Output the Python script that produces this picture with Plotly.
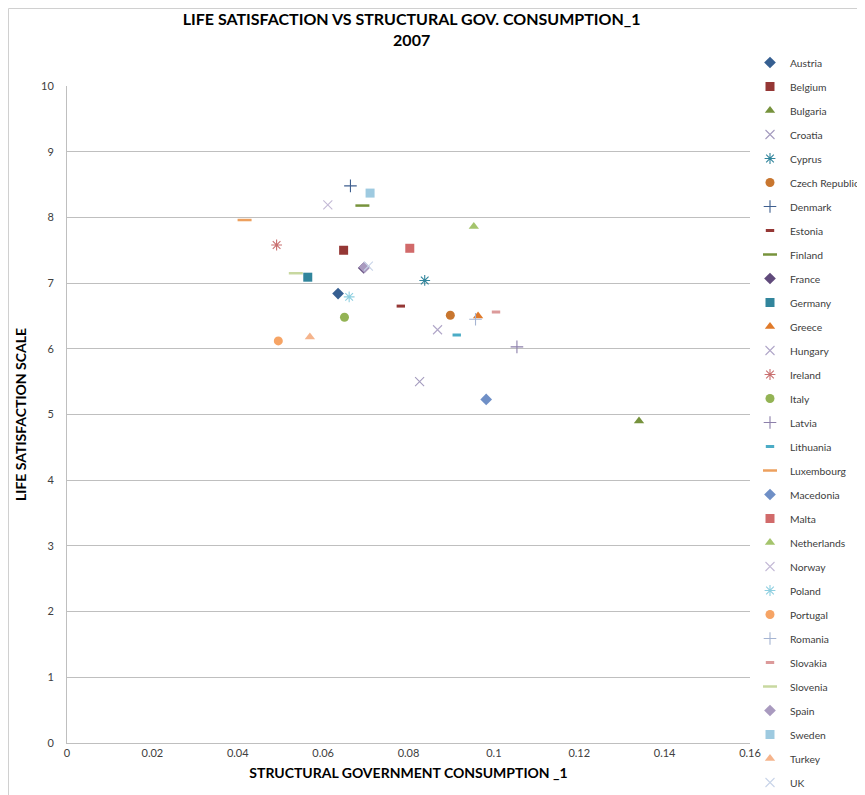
import plotly.graph_objects as go

countries = ["Austria", "Belgium", "Bulgaria", "Croatia", "Cyprus", "Czech Republic", "Denmark",
             "Estonia", "Finland", "France", "Germany", "Greece", "Hungary", "Ireland", "Italy",
             "Latvia", "Lithuania", "Luxembourg", "Macedonia", "Malta", "Netherlands", "Norway",
             "Poland", "Portugal", "Romania", "Slovakia", "Slovenia", "Spain", "Sweden", "Turkey", "UK"]

gov_consumption = [0.0635, 0.0648, 0.1340, 0.0826, 0.0838, 0.0898, 0.0664,
                   0.0782, 0.0692, 0.0695, 0.0564, 0.0963, 0.0868, 0.0491, 0.0650,
                   0.1054, 0.0913, 0.0416, 0.0982, 0.0803, 0.0953, 0.0611,
                   0.0661, 0.0495, 0.0957, 0.1005, 0.0536, 0.0697, 0.0710, 0.0569, 0.0706]

life_satisfaction = [6.84, 7.50, 4.90, 5.50, 7.04, 6.51, 8.48,
                     6.65, 8.18, 7.23, 7.09, 6.50, 6.29, 7.58, 6.48,
                     6.03, 6.21, 7.96, 5.23, 7.53, 7.86, 8.19,
                     6.79, 6.12, 6.45, 6.56, 7.15, 7.24, 8.37, 6.18, 7.26]

colors = ["#365F91", "#953735", "#76923C", "#A49BBE", "#31859C", "#C8762F", "#3F5F8F",
          "#953735", "#77933C", "#604A7B", "#31859C", "#E07A2A", "#B0A6C8", "#C97070", "#93B354",
          "#8C7FAA", "#4BACC6", "#EDA05E", "#6F8FC6", "#D16A6A", "#A4C46C", "#C4BAD6",
          "#8ECFE0", "#F6A465", "#A5B4D2", "#DC9A9A", "#C8D8A0", "#A99ABF", "#9ECAE0", "#F5B48C", "#C8D4E8"]

symbol_cycle = ["diamond", "square", "triangle-up", "x-thin-open", "asterisk-open", "circle",
                "cross-thin-open", "line-ew-open", "line-ew-open"]
size_cycle = [9, 9, 9, 9, 9, 9, 9, 6, 10]
width_cycle = [0, 0, 0, 1.1, 1.1, 0, 1.1, 3, 2.5]

fig = go.Figure()
for i, c in enumerate(countries):
    k = i % 9
    sym = symbol_cycle[k]
    marker = dict(symbol=sym, size=size_cycle[k], color=colors[i])
    if width_cycle[k] > 0:
        marker["line"] = dict(color=colors[i], width=width_cycle[k])
    else:
        marker["line"] = dict(width=0)
    fig.add_trace(go.Scatter(x=[gov_consumption[i]], y=[life_satisfaction[i]], mode="markers",
                             name=c, marker=marker, legendgroup=c))

font_family = "Lato, Open Sans, sans-serif"

W, H = 857, 787
L, T, PW, PH = 59, 78, 683, 657

fig.update_layout(
    width=W, height=H,
    paper_bgcolor="white", plot_bgcolor="white",
    margin=dict(l=L, r=W - L - PW, t=T, b=H - T - PH, autoexpand=False),
    font=dict(family=font_family, size=11, color="#404040"),
    title=dict(text="<b>LIFE SATISFACTION VS STRUCTURAL GOV. CONSUMPTION_1<br>2007</b>",
               x=0.471, xanchor="center", y=(H - 17) / H, yanchor="top",
               font=dict(family=font_family, size=16, color="#000000")),
    xaxis=dict(range=[0, 0.16], dtick=0.02, tick0=0, showgrid=False, zeroline=False,
               showline=True, linecolor="#BFBFBF", linewidth=1, ticks="",
               tickfont=dict(size=11, color="#404040"),
               title=dict(text="<b>STRUCTURAL GOVERNMENT CONSUMPTION _1</b>",
                          font=dict(size=14, color="#000000"), standoff=9)),
    yaxis=dict(range=[0, 10], dtick=1, tick0=0, showgrid=True, gridcolor="#BFBFBF", gridwidth=1,
               zeroline=False, showline=True, linecolor="#BFBFBF", linewidth=1, ticks="",
               ticklabelstandoff=10,
               tickfont=dict(size=11, color="#404040"),
               title=dict(text="<b>LIFE SATISFACTION SCALE</b>",
                          font=dict(size=14, color="#000000"), standoff=11)),
    legend=dict(x=(742 - L) / PW, xanchor="left", y=(T + PH - 40) / PH, yanchor="top",
                traceorder="grouped", tracegroupgap=5,
                font=dict(size=10.3, color="#404040"),
                bgcolor="rgba(0,0,0,0)", itemwidth=30, maxheight=1.0),
    showlegend=True,
)

fig.add_shape(type="rect", xref="paper", yref="paper",
              x0=(0.5 - L) / PW, x1=(W + 20 - L) / PW,
              y0=(T + PH - (H + 20)) / PH, y1=(T + PH - 0.5) / PH,
              line=dict(color="#D0D0D0", width=1), layer="below")

fig.write_html("out.html")
